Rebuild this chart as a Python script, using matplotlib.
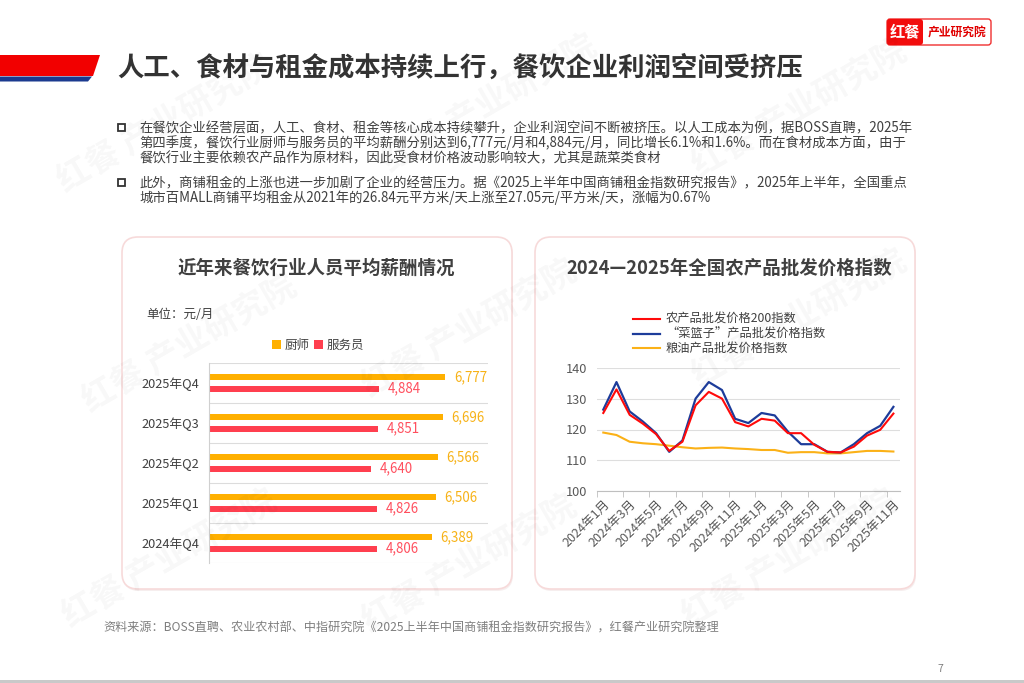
import matplotlib
matplotlib.use("Agg")
import matplotlib.pyplot as plt
from matplotlib.patches import FancyBboxPatch, Polygon, Rectangle

plt.rcParams['font.family'] = ['Noto Sans CJK SC', 'DejaVu Sans']

W, H = 1024, 683

# ---- data ----
quarters = ['2024年Q4', '2025年Q1', '2025年Q2', '2025年Q3', '2025年Q4']
chef = [6389, 6506, 6566, 6696, 6777]
waiter = [4806, 4826, 4640, 4851, 4884]

months = ['2024年%d月' % m for m in range(1, 13)] + ['2025年%d月' % m for m in range(1, 12)]
idx200 = [125.4, 133.1, 124.8, 121.9, 118.5, 113.0, 116.0, 127.9, 132.3, 130.1, 122.4, 121.0,
          123.5, 122.9, 118.8, 118.8, 115.0, 112.7, 112.5, 114.4, 118.0, 119.9, 125.2]
basket = [126.5, 135.5, 125.9, 122.6, 118.8, 112.7, 116.4, 130.1, 135.5, 132.9, 123.5, 122.1,
          125.4, 124.6, 119.3, 115.2, 115.2, 112.7, 112.5, 115.2, 118.8, 121.2, 127.4]
grain = [119.0, 118.2, 116.0, 115.5, 115.2, 114.7, 114.2, 113.8, 114.0, 114.1, 113.8, 113.6,
         113.3, 113.3, 112.4, 112.6, 112.6, 112.2, 112.2, 112.6, 113.0, 113.0, 112.8]

title = '人工、食材与租金成本持续上行，餐饮企业利润空间受挤压'
para1 = ['在餐饮企业经营层面，人工、食材、租金等核心成本持续攀升，企业利润空间不断被挤压。以人工成本为例，据BOSS直聘，2025年',
         '第四季度，餐饮行业厨师与服务员的平均薪酬分别达到6,777元/月和4,884元/月，同比增长6.1%和1.6%。而在食材成本方面，由于',
         '餐饮行业主要依赖农产品作为原材料，因此受食材价格波动影响较大，尤其是蔬菜类食材']
para2 = ['此外，商铺租金的上涨也进一步加剧了企业的经营压力。据《2025上半年中国商铺租金指数研究报告》，2025年上半年，全国重点',
         '城市百MALL商铺平均租金从2021年的26.84元平方米/天上涨至27.05元/平方米/天，涨幅为0.67%']
source = '资料来源：BOSS直聘、农业农村部、中指研究院《2025上半年中国商铺租金指数研究报告》，红餐产业研究院整理'

ORANGE = '#FFB000'
RED = '#FF3F4F'


def rect(x0, y0, x1, y1):
    # pixel box -> figure fraction
    return [x0 / W, 1 - y1 / H, (x1 - x0) / W, (y1 - y0) / H]


fig = plt.figure(figsize=(W / 100, H / 100), dpi=100)
fig.patch.set_facecolor('white')

bg = fig.add_axes([0, 0, 1, 1], zorder=0)
bg.set_xlim(0, W); bg.set_ylim(H, 0); bg.axis('off')

# header banner + logo
bg.add_patch(Polygon([(0, 55), (100, 55), (93, 76), (0, 76)], closed=True, color='#F20000', lw=0))
bg.add_patch(Polygon([(0, 76.5), (92, 76.5), (88, 81.5), (0, 81.5)], closed=True, color='#1B3A8F', lw=0))
bg.text(117, 68, title, fontsize=19, fontweight='bold', color='#333333', va='center', ha='left')

bg.add_patch(FancyBboxPatch((887, 19), 104, 26, boxstyle='round,pad=0,rounding_size=3',
                            fc='white', ec='#F03030', lw=1))
bg.add_patch(FancyBboxPatch((887, 19), 36, 26, boxstyle='round,pad=0,rounding_size=3',
                            fc='#F20D0D', ec='none'))
bg.text(905, 32.5, '红餐', color='white', fontsize=11, fontweight='bold', ha='center', va='center')
bg.text(957, 32.5, '产业研究院', color='#E00000', fontsize=8.5, fontweight='bold', ha='center', va='center')

# bullet paragraphs
for y0, lines in [(128, para1), (183, para2)]:
    bg.add_patch(Rectangle((118, y0 - 4), 7, 7, fc='white', ec='#333333', lw=1.3))
    for i, s in enumerate(lines):
        bg.text(139, y0 + i * 15, s, fontsize=9.6, color='#3F3F3F', va='center', ha='left')

# panels
for x0, x1 in [(122, 512), (535, 915)]:
    bg.add_patch(FancyBboxPatch((x0 + 1, 239), x1 - x0, 352, boxstyle='round,pad=0,rounding_size=16',
                                fc='#F6EEEE', ec='none'))
    bg.add_patch(FancyBboxPatch((x0, 237), x1 - x0, 352, boxstyle='round,pad=0,rounding_size=16',
                                fc='#FFFFFF', ec='#F7DADA', lw=1.2))

bg.text(316, 268, '近年来餐饮行业人员平均薪酬情况', fontsize=13.3, fontweight='bold',
        color='#404040', ha='center', va='center')
bg.text(729, 268, '2024—2025年全国农产品批发价格指数', fontsize=13.3, fontweight='bold',
        color='#404040', ha='center', va='center')
bg.text(146, 314, '单位：元/月', fontsize=9, color='#404040', ha='left', va='center')

# footer
bg.text(103, 628, source, fontsize=8.7, color='#7F7F7F', ha='left', va='center')
bg.text(937, 669, '7', fontsize=7.5, color='#7F7F7F', ha='left', va='center')
bg.add_patch(Rectangle((0, 680), W, 3, color='#C9C9C9', lw=0))

# ---- left chart: salaries ----
ax1 = fig.add_axes(rect(209, 363, 488, 563), zorder=2)
ax1.patch.set_alpha(0)
n = len(quarters)
pos = list(range(n))
h = 0.15
ax1.barh([p + 0.14 for p in pos], chef, height=h, color=ORANGE, label='厨师')
ax1.barh([p - 0.14 for p in pos], waiter, height=h, color=RED, label='服务员')
for p, v in zip(pos, chef):
    ax1.text(v + 250, p + 0.14, f'{v:,}', color='#F7B217', fontsize=9.6, va='center', ha='left')
for p, v in zip(pos, waiter):
    ax1.text(v + 250, p - 0.14, f'{v:,}', color='#FF4F5E', fontsize=9.6, va='center', ha='left')
ax1.set_xlim(0, 8000)
ax1.set_ylim(-0.5, n - 0.5)
ax1.set_yticks(pos)
ax1.set_yticklabels(quarters, fontsize=9.2, color='#404040')
ax1.set_yticks([p - 0.5 for p in range(n + 1)], minor=True)
ax1.grid(axis='y', which='minor', color='#DCDCDC', lw=0.8)
ax1.tick_params(axis='y', which='both', length=0, pad=7)
ax1.set_xticks([])
for s in ['top', 'right', 'bottom']:
    ax1.spines[s].set_visible(False)
ax1.spines['left'].set_color('#D0D0D0')
ax1.legend(loc='center', bbox_to_anchor=(318 / W, 1 - 345 / H), bbox_transform=fig.transFigure,
           ncol=2, frameon=False, fontsize=9, handlelength=0.7, handleheight=0.7,
           handletextpad=0.3, columnspacing=0.4, labelcolor='#404040')

# ---- right chart: price indices ----
ax2 = fig.add_axes(rect(596.7, 368.3, 900, 490.7), zorder=2)
ax2.patch.set_alpha(0)
x = list(range(len(months)))
ax2.plot(x, grain, color='#FBB117', lw=1.5, label='粮油产品批发价格指数', zorder=3)
ax2.plot(x, basket, color='#1D3C9A', lw=1.6, label='“菜篮子”产品批发价格指数', zorder=4)
ax2.plot(x, idx200, color='#FF0A0A', lw=1.5, label='农产品批发价格200指数', zorder=5)
ax2.set_xlim(-0.5, len(months) - 0.5)
ax2.set_ylim(100, 140)
ax2.set_yticks([100, 110, 120, 130, 140])
ax2.tick_params(axis='y', length=0, pad=7, labelsize=9.2, labelcolor='#595959')
ax2.grid(axis='y', color='#DEDEDE', lw=0.8)
ax2.set_axisbelow(True)
ax2.set_xticks(x[::2])
ax2.set_xticklabels(months[::2], rotation=45, ha='right', rotation_mode='anchor',
                    fontsize=9.1, color='#595959')
ax2.set_xticks([i - 0.5 for i in range(0, len(months) + 1, 2)], minor=True)
ax2.tick_params(axis='x', which='major', length=0, pad=5)
ax2.tick_params(axis='x', which='minor', length=4, color='#BFBFBF')
for s in ['top', 'right', 'left']:
    ax2.spines[s].set_visible(False)
ax2.spines['bottom'].set_color('#BFBFBF')
hd, lb = ax2.get_legend_handles_labels()
ax2.legend(hd[::-1], lb[::-1], loc='upper left', bbox_to_anchor=(622 / W, 1 - 302 / H),
           bbox_transform=fig.transFigure, frameon=False, fontsize=8.8, handlelength=2.2,
           handletextpad=0.5, labelspacing=0.15, labelcolor='#404040')

# faint watermarks
ov = fig.add_axes([0, 0, 1, 1], zorder=5)
ov.set_xlim(0, W); ov.set_ylim(H, 0); ov.axis('off')
for wx, wy in [(165, 125), (490, 105), (800, 110), (190, 345), (470, 330), (800, 320),
               (170, 560), (470, 565), (790, 560)]:
    ov.text(wx, wy, '红餐 产业研究院', fontsize=24, fontweight='bold', color='#000000', alpha=0.03,
            rotation=30, ha='center', va='center')

fig.savefig('out.png', dpi=100)
